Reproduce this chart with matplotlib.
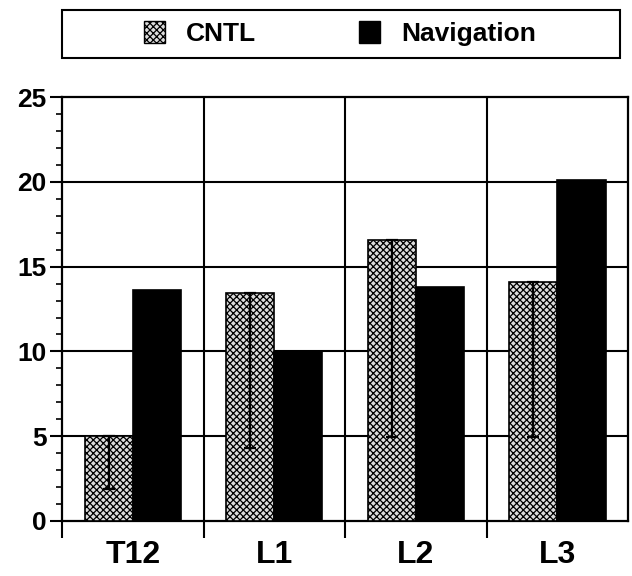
import numpy as np
import matplotlib.pyplot as plt
from matplotlib.patches import Patch, Rectangle

# data
levels = ["T12", "L1", "L2", "L3"]
cntl = [5.0, 13.45, 16.55, 14.1]
cntl_err_low = [3.1, 9.15, 11.6, 9.15]
navigation = [13.6, 9.95, 13.8, 20.1]

plt.rcParams['font.family'] = ['Liberation Sans', 'DejaVu Sans']
plt.rcParams['font.weight'] = 'bold'
plt.rcParams['hatch.linewidth'] = 0.9

fig = plt.figure(figsize=(6.32, 5.76), dpi=100)
ax = fig.add_axes([0.098, 0.0955, 0.896, 0.736])

x = np.arange(len(levels))
w = 0.34
ax.bar(x - w / 2, cntl, w, facecolor='#dcdcdc', edgecolor='black',
       hatch='xxxxx', linewidth=1.2, zorder=3)
ax.bar(x + w / 2, navigation, w, facecolor='black', edgecolor='black',
       linewidth=1.2, zorder=3)
ax.errorbar(x - w / 2, cntl, yerr=[cntl_err_low, np.zeros(len(cntl))],
            fmt='none', ecolor='black', elinewidth=1.6, capsize=4,
            capthick=1.6, zorder=4)

ax.set_xlim(-0.5, 3.5)
ax.set_ylim(0, 25)
ax.set_yticks([0, 5, 10, 15, 20, 25])
ax.set_yticks(np.arange(0, 26, 1), minor=True)
ax.set_xticks(x)
ax.set_xticklabels(levels, fontsize=23, fontweight='bold')
ax.set_xticks([-0.5, 0.5, 1.5, 2.5], minor=True)
ax.tick_params(axis='y', which='major', length=9, width=1.5, labelsize=19, pad=2)
ax.tick_params(axis='y', which='minor', length=4, width=1.2)
ax.tick_params(axis='x', which='major', length=0, pad=14)
ax.tick_params(axis='x', which='minor', length=12, width=1.5)
for lab in ax.get_yticklabels():
    lab.set_fontweight('bold')

for yv in [5, 10, 15, 20]:
    ax.axhline(yv, color='black', lw=1.5, zorder=1)
for xv in [0.5, 1.5, 2.5]:
    ax.axvline(xv, color='black', lw=1.5, zorder=1)
for s in ax.spines.values():
    s.set_linewidth(1.6)

# legend box spanning the top
fig.patches.append(Rectangle((0.098, 0.9), 0.883, 0.083, transform=fig.transFigure,
                             facecolor='white', edgecolor='black', lw=1.5))
handles = [Patch(facecolor='#dcdcdc', edgecolor='black', hatch='xxxxx', label='CNTL'),
           Patch(facecolor='black', edgecolor='black', label='Navigation')]
leg = fig.legend(handles=handles, loc='center', ncol=2,
                 bbox_to_anchor=(0.538, 0.9415), frameon=False,
                 prop={'size': 19, 'weight': 'bold'}, handlelength=0.8,
                 handleheight=0.9, handletextpad=0.8, columnspacing=3.9,
                 borderaxespad=0)

fig.savefig('out.png', dpi=100)
